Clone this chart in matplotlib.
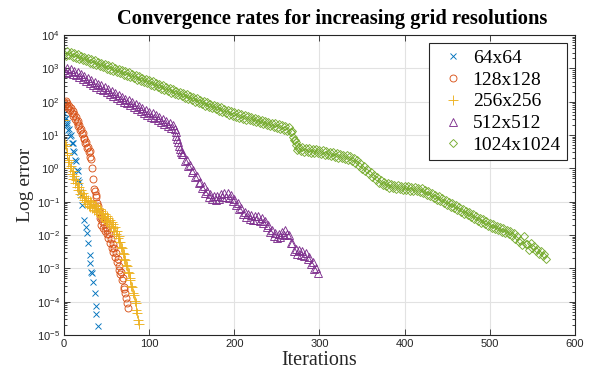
import numpy as np
import matplotlib
matplotlib.use('Agg')
import matplotlib.pyplot as plt
from matplotlib.ticker import LogLocator, FuncFormatter, NullLocator

series_labels = ['64x64', '128x128', '256x256', '512x512', '1024x1024']
colors = ['#0072BD', '#D95319', '#EDB120', '#7E2F8E', '#77AC30']
markers = ['x', 'o', '+', '^', 'D']
marker_sizes = [5, 5, 6.5, 5.2, 4.0]

# ---- 64x64 (log10 of error) ----
iter_64 = list(range(0, 22)) + [24, 26, 27, 28, 30, 31, 32, 33, 34, 36, 37, 38, 40]
log_err_64 = [1.66, 1.47, 1.51, 1.31, 1.35, 1.15, 1.19, 0.98, 1.01, 0.77, 0.76,
              0.51, 0.50, 0.24, 0.22, -0.04, -0.08, -0.36, -0.42, -0.72, -0.80, -1.10,
              -1.54, -1.75, -1.93, -2.23, -2.59, -2.83, -3.10, -3.15, -3.40, -3.73,
              -4.14, -4.38, -4.74]

# ---- 128x128 ----
iter_128 = list(range(0, 76))
log_err_128 = [2.00, 1.92, 2.01, 1.88, 1.95, 1.81, 1.87, 1.74, 1.80, 1.66, 1.72,
               1.57, 1.63, 1.48, 1.53, 1.38, 1.42, 1.26, 1.30, 1.14, 1.18, 1.02,
               1.05, 0.88, 0.92, 0.75, 0.79, 0.62, 0.65, 0.48, 0.51, 0.33, 0.28,
               0.02, -0.32, -0.62, -0.69, -0.80, -0.85, -1.05, -1.14,
               -1.30, -1.50, -1.45, -1.70, -1.58, -1.78, -1.66, -1.88, -1.76, -1.98,
               -1.85, -2.10, -1.98, -2.25, -2.12, -2.38, -2.28, -2.50, -2.40, -2.66,
               -2.55, -2.80, -2.72, -3.04, -2.92, -3.18, -3.12, -3.36, -3.30, -3.55,
               -3.62, -3.75, -3.90, -4.05, -4.18]

# ---- 256x256 ----
iter_256 = list(range(0, 89))
log_err_256 = [1.46, 0.72, 0.68, 0.40, 0.46, 0.20, 0.26, 0.00, 0.06, -0.18,
               -0.09, -0.32, -0.22, -0.44, -0.34, -0.56, -0.45, -0.66, -0.55, -0.76,
               -0.65, -0.86, -0.75, -0.95, -0.83, -1.02, -0.89, -1.08, -0.94, -1.12,
               -0.98, -1.16, -1.02, -1.20, -1.06, -1.24, -1.10, -1.28, -1.14, -1.32,
               -1.18, -1.36, -1.23, -1.42, -1.28, -1.47, -1.33, -1.52, -1.38, -1.57,
               -1.43, -1.62, -1.48, -1.67, -1.54, -1.73, -1.60, -1.80, -1.68, -1.88,
               -1.77, -1.98, -1.88, -2.08, -2.03, -2.20, -2.20, -2.36, -2.38, -2.54,
               -2.56, -2.72, -2.74, -2.90, -2.93, -3.10, -3.13, -3.30, -3.34, -3.52,
               -3.56, -3.74, -3.80, -3.98, -4.04, -4.25, -4.33, -4.56, -4.68]

# ---- 512x512 ----
iter_512 = (list(range(0, 129, 2)) + [130, 131, 132, 133, 134, 135, 136, 137, 138]
            + list(range(140, 299, 2)))
log_err_512 = [2.94, 2.87, 3.01, 2.89, 2.99, 2.84, 2.93, 2.79, 2.88, 2.73,   # 0-18
               2.82, 2.67, 2.77, 2.62, 2.71, 2.56, 2.65, 2.51, 2.60, 2.45,   # 20-38
               2.54, 2.39, 2.49, 2.34, 2.43, 2.28, 2.37, 2.23, 2.32, 2.17,   # 40-58
               2.26, 2.11, 2.21, 2.06, 2.15, 2.00, 2.09, 1.95, 2.04, 1.89,   # 60-78
               1.98, 1.83, 1.93, 1.78, 1.87, 1.72, 1.81, 1.67, 1.76, 1.61,   # 80-98
               1.70, 1.55, 1.65, 1.50, 1.59, 1.44, 1.53, 1.39, 1.48, 1.33,   # 100-118
               1.42, 1.27, 1.37, 1.22, 1.31,                                 # 120-128
               1.18, 1.08, 0.98, 0.88, 0.78, 0.68, 0.58, 0.50, 0.42,         # 130-138
               0.42, 0.22, 0.26, 0.06, 0.10, -0.10, -0.06, -0.27, -0.24, -0.44,          # 140-158
               -0.40, -0.59, -0.54, -0.73, -0.67, -0.85, -0.78, -0.93, -0.83, -0.95,     # 160-178
               -0.82, -0.91, -0.76, -0.86, -0.73, -0.85, -0.74, -0.89, -0.81, -0.98,     # 180-198
               -0.91, -1.10, -1.04, -1.23, -1.18, -1.36, -1.30, -1.46, -1.38, -1.52,     # 200-218
               -1.41, -1.54, -1.42, -1.54, -1.43, -1.57, -1.49, -1.65, -1.58, -1.76,     # 220-238
               -1.71, -1.90, -1.85, -2.03, -1.95, -2.08, -1.96, -2.06, -1.91, -2.00,     # 240-258
               -1.85, -1.96, -1.99, -2.24, -2.25, -2.48, -2.42, -2.57, -2.46, -2.59,     # 260-278
               -2.48, -2.62, -2.54, -2.72, -2.66, -2.86, -2.82, -3.03, -3.00, -3.14]     # 280-298

# ---- 1024x1024 ----
iter_1024 = list(range(0, 567, 2)) + [267, 269, 271, 273, 275]
log_err_1024 = [3.44, 3.37, 3.51, 3.39, 3.49, 3.35, 3.45, 3.31, 3.42, 3.28,   # 0-18
                3.38, 3.24, 3.34, 3.21, 3.31, 3.17, 3.27, 3.13, 3.24, 3.10,   # 20-38
                3.20, 3.06, 3.16, 3.03, 3.13, 2.99, 3.09, 2.95, 3.06, 2.92,   # 40-58
                3.02, 2.88, 2.98, 2.85, 2.95, 2.81, 2.91, 2.77, 2.88, 2.74,   # 60-78
                2.84, 2.70, 2.80, 2.66, 2.76, 2.62, 2.72, 2.58, 2.68, 2.55,   # 80-98
                2.65, 2.51, 2.61, 2.47, 2.57, 2.43, 2.53, 2.39, 2.49, 2.35,   # 100-118
                2.45, 2.31, 2.41, 2.27, 2.37, 2.23, 2.33, 2.19, 2.29, 2.16,   # 120-138
                2.26, 2.12, 2.22, 2.08, 2.18, 2.04, 2.14, 2.00, 2.10, 1.96,   # 140-158
                2.06, 1.92, 2.02, 1.88, 1.98, 1.84, 1.94, 1.80, 1.90, 1.77,   # 160-178
                1.87, 1.73, 1.83, 1.69, 1.79, 1.65, 1.75, 1.61, 1.71, 1.58,   # 180-198
                1.68, 1.55, 1.65, 1.52, 1.63, 1.49, 1.60, 1.46, 1.57, 1.44,   # 200-218
                1.54, 1.41, 1.51, 1.38, 1.49, 1.35, 1.46, 1.32, 1.43, 1.30,   # 220-238
                1.40, 1.27, 1.37, 1.24, 1.35, 1.21, 1.32, 1.18, 1.29, 1.16,   # 240-258
                1.26, 1.13, 1.23, 1.10, 1.11, 0.84, 0.78, 0.54, 0.64, 0.51,   # 260-278
                0.63, 0.50, 0.61, 0.49, 0.60, 0.47, 0.59, 0.46, 0.57, 0.45,   # 280-298
                0.56, 0.43, 0.54, 0.41, 0.52, 0.39, 0.50, 0.37, 0.48, 0.35,   # 300-318
                0.45, 0.32, 0.43, 0.30, 0.41, 0.28, 0.39, 0.26, 0.37, 0.22,   # 320-338
                0.31, 0.15, 0.24, 0.08, 0.15, -0.01, 0.07, -0.09, -0.02, -0.18,       # 340-358
                -0.10, -0.27, -0.19, -0.35, -0.27, -0.44, -0.36, -0.50, -0.40, -0.54, # 360-378
                -0.44, -0.58, -0.47, -0.60, -0.49, -0.62, -0.51, -0.63, -0.52, -0.64, # 380-398
                -0.53, -0.66, -0.54, -0.67, -0.55, -0.68, -0.57, -0.69, -0.58, -0.70, # 400-418
                -0.59, -0.74, -0.64, -0.79, -0.69, -0.84, -0.74, -0.89, -0.79, -0.94, # 420-438
                -0.84, -0.99, -0.89, -1.04, -0.95, -1.09, -1.00, -1.15, -1.05, -1.20, # 440-458
                -1.11, -1.25, -1.16, -1.31, -1.21, -1.36, -1.27, -1.41, -1.32, -1.47, # 460-478
                -1.37, -1.52, -1.43, -1.57, -1.48, -1.63, -1.53, -1.68, -1.59, -1.73, # 480-498
                -1.64, -1.78, -1.68, -1.82, -1.72, -1.86, -1.76, -1.90, -1.80, -1.94, # 500-518
                -1.84, -1.98, -1.88, -2.02, -1.94, -2.11, -2.04, -2.22, -2.15, -2.30, # 520-538
                -2.04, -2.26, -2.26, -2.46, -2.24, -2.40, -2.32, -2.49, -2.41, -2.57, # 540-558
                -2.49, -2.64, -2.56, -2.72,                                           # 560-566
                1.08, 0.95, 0.85, 0.70, 0.62]                                         # drop

series_iters = [iter_64, iter_128, iter_256, iter_512, iter_1024]
series_logs = [log_err_64, log_err_128, log_err_256, log_err_512, log_err_1024]

x_ticks = [0, 100, 200, 300, 400, 500, 600]

axis_col = '#262626'
serif = ['Liberation Serif', 'DejaVu Serif']
sans = ['Liberation Sans', 'DejaVu Sans']

fig = plt.figure(figsize=(5.9, 3.73), dpi=100)
ax = fig.add_axes([0.1085, 0.1019, 0.866, 0.804])

for its, logs, c, m, ms, lab in zip(series_iters, series_logs, colors, markers,
                                    marker_sizes, series_labels):
    n = min(len(its), len(logs))
    ax.plot(np.array(its[:n]), 10.0 ** np.array(logs[:n]), linestyle='none',
            marker=m, color=c, mfc='none', mec=c, ms=ms, mew=0.65, label=lab)

ax.set_yscale('log')
ax.set_xlim(0, 600)
ax.set_ylim(1e-5, 1e4)
ax.set_xticks(x_ticks)
ax.xaxis.set_minor_locator(NullLocator())
ax.yaxis.set_major_locator(LogLocator(base=10, numticks=20))
ax.yaxis.set_minor_locator(LogLocator(base=10, subs=np.arange(2, 10), numticks=20))
ax.yaxis.set_major_formatter(FuncFormatter(
    lambda v, p: r'$\mathregular{10^{%d}}$' % int(round(np.log10(v)))))

ax.tick_params(which='both', direction='in', top=True, right=True,
               color=axis_col, width=0.6)
ax.tick_params(which='major', length=4, labelsize=8, labelcolor=axis_col, pad=3)
ax.tick_params(which='minor', length=2)
for lbl in ax.get_xticklabels() + ax.get_yticklabels():
    lbl.set_fontfamily(sans)

for s in ax.spines.values():
    s.set_color(axis_col)
    s.set_linewidth(0.8)

ax.grid(True, which='major', color='#e2e2e2', linewidth=0.8)
ax.set_axisbelow(True)

ax.set_title('Convergence rates for increasing grid resolutions',
             fontfamily=serif, fontweight='bold', fontsize=14.8, pad=8,
             color='black', x=0.524)
ax.set_xlabel('Iterations', fontfamily=serif, fontsize=14.5, labelpad=1, color=axis_col)
ax.set_ylabel('Log error', fontfamily=serif, fontsize=14, labelpad=2, color=axis_col)

leg = ax.legend(loc='upper right', prop={'family': serif, 'size': 14},
                frameon=True, fancybox=False, edgecolor=axis_col, framealpha=1,
                borderaxespad=0.42, borderpad=0.3, handlelength=1.85,
                handletextpad=0.1, labelspacing=0.22, numpoints=1)
leg.get_frame().set_linewidth(0.8)

fig.savefig('out.png', dpi=100)
